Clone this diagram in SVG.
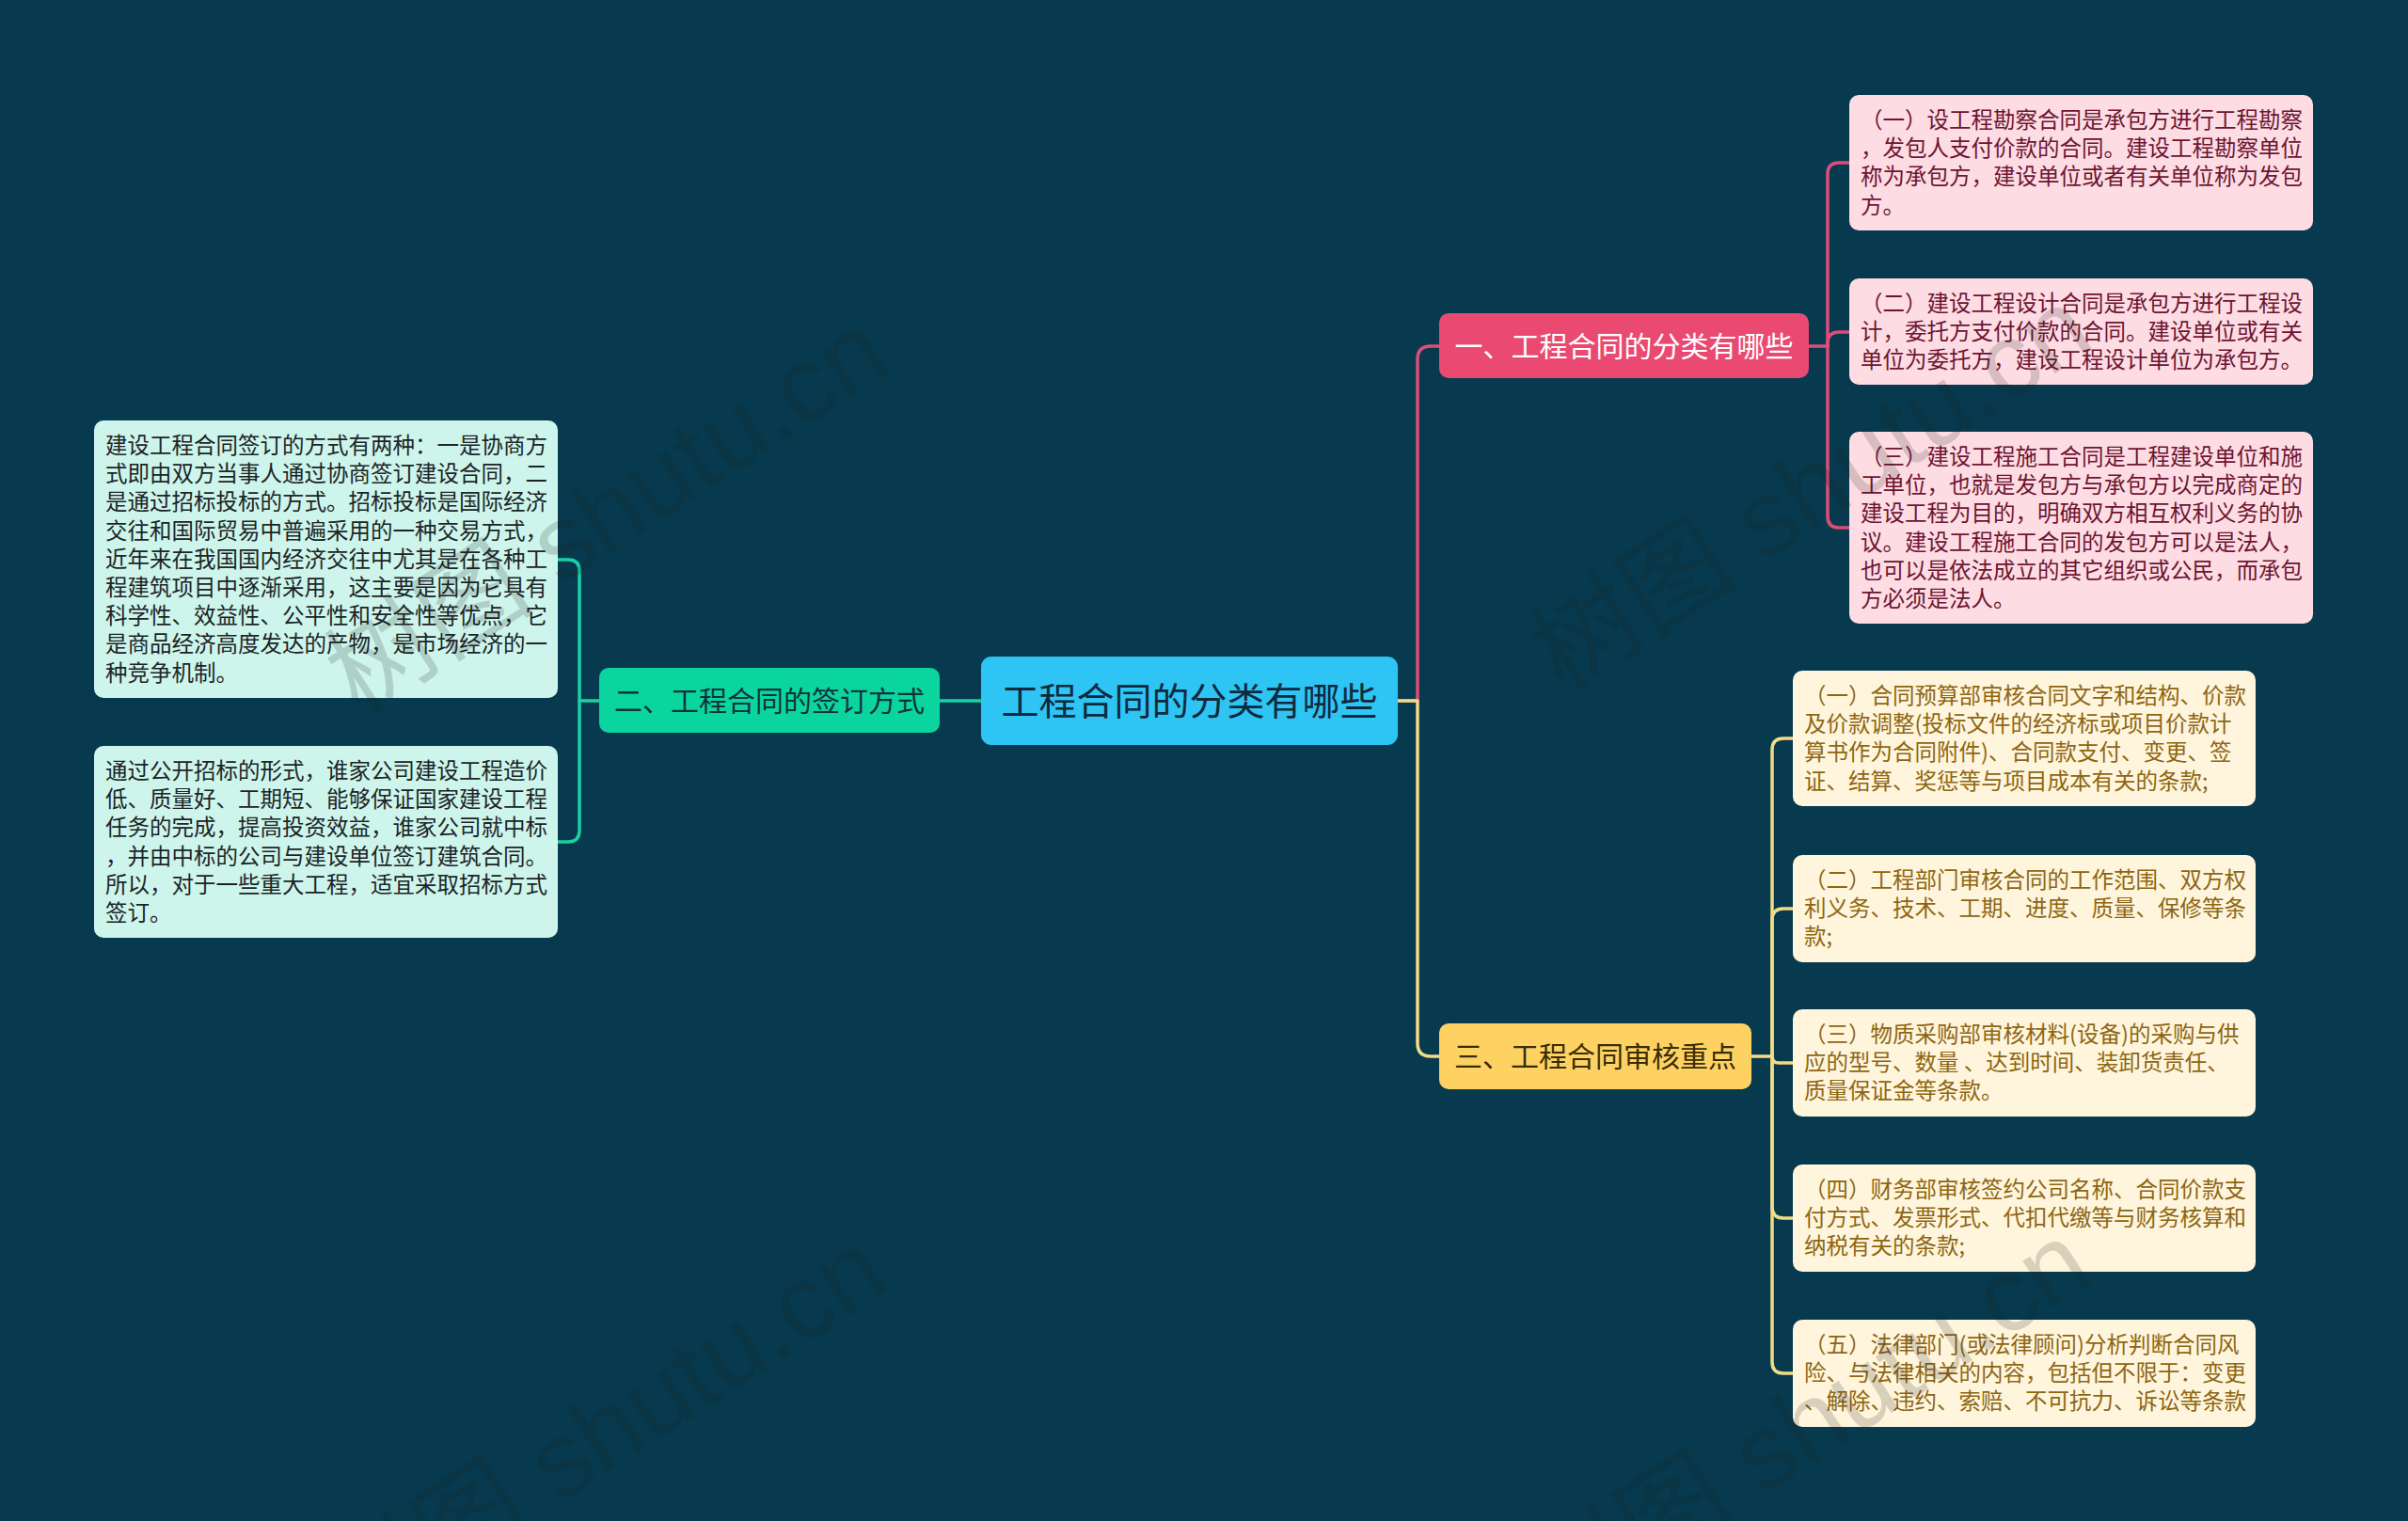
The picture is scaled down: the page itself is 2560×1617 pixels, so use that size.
<svg xmlns="http://www.w3.org/2000/svg" width="2560" height="1617" viewBox="0 0 2560 1617">
<style>
text{font-family:"Noto Sans CJK SC","Noto Sans",sans-serif}
.conn{fill:none;stroke-width:3.5;stroke-linejoin:round;stroke-linecap:round}
.cp{stroke:#DB4E79}.cy{stroke:#F2DB85}.cg{stroke:#19D1A3}
.leaf{font-size:23.5px}
.lp rect{fill:#FDDCE3}.lp text{fill:#6E1432}
.ly rect{fill:#FFF5DD}.ly text{fill:#8E6611}
.lg rect{fill:#CDF5EB}.lg text{fill:#1C2426}
.br{font-size:30px}
.wm{font-size:112px;fill:#202020;fill-opacity:0.17;font-family:"Liberation Sans","Noto Sans CJK SC",sans-serif}
</style>
<rect width="2560" height="1617" fill="#073A4E"/>
<g id="connectors">
<path class="conn cg" d="M1043,745 L999,745"/>
<path class="conn cp" d="M1486,745 L1507,745 L1507,382 Q1507,368 1521,368 L1530,368"/>
<path class="conn cy" d="M1486,745 L1507,745 L1507,1109 Q1507,1123 1521,1123 L1530,1123"/>
<path class="conn cp" d="M1923,368 L1943,368 L1943,185 Q1943,173 1955,173 L1966,173"/>
<path class="conn cp" d="M1943,368 L1943,365 Q1943,353 1955,353 L1966,353"/>
<path class="conn cp" d="M1943,368 L1943,549 Q1943,561 1955,561 L1966,561"/>
<path class="conn cy" d="M1862,1123 L1884,1123 L1884,797 Q1884,785 1896,785 L1906,785"/>
<path class="conn cy" d="M1884,1123 L1884,978 Q1884,966 1896,966 L1906,966"/>
<path class="conn cy" d="M1884,1123 Q1884,1130 1891,1130 L1906,1130"/>
<path class="conn cy" d="M1884,1123 L1884,1283 Q1884,1295 1896,1295 L1906,1295"/>
<path class="conn cy" d="M1884,1123 L1884,1448 Q1884,1460 1896,1460 L1906,1460"/>
<path class="conn cg" d="M637,745 L616,745 L616,607 Q616,595 604,595 L593,595"/>
<path class="conn cg" d="M616,745 L616,883 Q616,895 604,895 L593,895"/>
</g>
<g id="root">
<rect x="1043" y="698" width="443" height="94" rx="11" fill="#2EC4F3"/>
<text x="1264.5" y="760" text-anchor="middle" font-size="40" fill="#0F2A3C">工程合同的分类有哪些</text>
</g>
<g id="branch1">
<rect x="1530" y="333" width="393" height="69" rx="10" fill="#EA4A72"/>
<text class="br" x="1726.5" y="379" text-anchor="middle" fill="#FFFFFF">一、工程合同的分类有哪些</text>
</g>
<g id="branch2">
<rect x="637" y="710" width="362" height="69" rx="10" fill="#0BD59F"/>
<text class="br" x="818" y="756" text-anchor="middle" fill="#10333A">二、工程合同的签订方式</text>
</g>
<g id="branch3">
<rect x="1530" y="1088" width="332" height="70" rx="10" fill="#FDD263"/>
<text class="br" x="1696" y="1134" text-anchor="middle" fill="#3A2C05">三、工程合同审核重点</text>
</g>
<g id="leaf-p1" class="lp leaf">
<rect x="1966" y="101" width="493" height="144" rx="10"/>
<text x="1978" y="136"><tspan x="1978">（一）设工程勘察合同是承包方进行工程勘察</tspan><tspan x="1978" dy="30.2">，发包人支付价款的合同。建设工程勘察单位</tspan><tspan x="1978" dy="30.2">称为承包方，建设单位或者有关单位称为发包</tspan><tspan x="1978" dy="30.2">方。</tspan></text>
</g>
<g id="leaf-p2" class="lp leaf">
<rect x="1966" y="296" width="493" height="113" rx="10"/>
<text x="1978" y="331"><tspan x="1978">（二）建设工程设计合同是承包方进行工程设</tspan><tspan x="1978" dy="30.2">计，委托方支付价款的合同。建设单位或有关</tspan><tspan x="1978" dy="30.2">单位为委托方，建设工程设计单位为承包方。</tspan></text>
</g>
<g id="leaf-p3" class="lp leaf">
<rect x="1966" y="459" width="493" height="204" rx="10"/>
<text x="1978" y="494"><tspan x="1978">（三）建设工程施工合同是工程建设单位和施</tspan><tspan x="1978" dy="30.2">工单位，也就是发包方与承包方以完成商定的</tspan><tspan x="1978" dy="30.2">建设工程为目的，明确双方相互权利义务的协</tspan><tspan x="1978" dy="30.2">议。建设工程施工合同的发包方可以是法人，</tspan><tspan x="1978" dy="30.2">也可以是依法成立的其它组织或公民，而承包</tspan><tspan x="1978" dy="30.2">方必须是法人。</tspan></text>
</g>
<g id="leaf-y1" class="ly leaf">
<rect x="1906" y="713" width="492" height="144" rx="10"/>
<text x="1918" y="748"><tspan x="1918">（一）合同预算部审核合同文字和结构、价款</tspan><tspan x="1918" dy="30.2">及价款调整(投标文件的经济标或项目价款计</tspan><tspan x="1918" dy="30.2">算书作为合同附件)、合同款支付、变更、签</tspan><tspan x="1918" dy="30.2">证、结算、奖惩等与项目成本有关的条款;</tspan></text>
</g>
<g id="leaf-y2" class="ly leaf">
<rect x="1906" y="909" width="492" height="114" rx="10"/>
<text x="1918" y="944"><tspan x="1918">（二）工程部门审核合同的工作范围、双方权</tspan><tspan x="1918" dy="30.2">利义务、技术、工期、进度、质量、保修等条</tspan><tspan x="1918" dy="30.2">款;</tspan></text>
</g>
<g id="leaf-y3" class="ly leaf">
<rect x="1906" y="1073" width="492" height="114" rx="10"/>
<text x="1918" y="1108"><tspan x="1918">（三）物质采购部审核材料(设备)的采购与供</tspan><tspan x="1918" dy="30.2">应的型号、数量 、达到时间、装卸货责任、</tspan><tspan x="1918" dy="30.2">质量保证金等条款。</tspan></text>
</g>
<g id="leaf-y4" class="ly leaf">
<rect x="1906" y="1238" width="492" height="114" rx="10"/>
<text x="1918" y="1273"><tspan x="1918">（四）财务部审核签约公司名称、合同价款支</tspan><tspan x="1918" dy="30.2">付方式、发票形式、代扣代缴等与财务核算和</tspan><tspan x="1918" dy="30.2">纳税有关的条款;</tspan></text>
</g>
<g id="leaf-y5" class="ly leaf">
<rect x="1906" y="1403" width="492" height="114" rx="10"/>
<text x="1918" y="1438"><tspan x="1918">（五）法律部门(或法律顾问)分析判断合同风</tspan><tspan x="1918" dy="30.2">险、与法律相关的内容，包括但不限于：变更</tspan><tspan x="1918" dy="30.2">、解除、违约、索赔、不可抗力、诉讼等条款</tspan></text>
</g>
<g id="leaf-g1" class="lg leaf">
<rect x="100" y="447" width="493" height="295" rx="10"/>
<text x="112" y="482"><tspan x="112">建设工程合同签订的方式有两种：一是协商方</tspan><tspan x="112" dy="30.2">式即由双方当事人通过协商签订建设合同，二</tspan><tspan x="112" dy="30.2">是通过招标投标的方式。招标投标是国际经济</tspan><tspan x="112" dy="30.2">交往和国际贸易中普遍采用的一种交易方式，</tspan><tspan x="112" dy="30.2">近年来在我国国内经济交往中尤其是在各种工</tspan><tspan x="112" dy="30.2">程建筑项目中逐渐采用，这主要是因为它具有</tspan><tspan x="112" dy="30.2">科学性、效益性、公平性和安全性等优点，它</tspan><tspan x="112" dy="30.2">是商品经济高度发达的产物，是市场经济的一</tspan><tspan x="112" dy="30.2">种竞争机制。</tspan></text>
</g>
<g id="leaf-g2" class="lg leaf">
<rect x="100" y="793" width="493" height="204" rx="10"/>
<text x="112" y="828"><tspan x="112">通过公开招标的形式，谁家公司建设工程造价</tspan><tspan x="112" dy="30.2">低、质量好、工期短、能够保证国家建设工程</tspan><tspan x="112" dy="30.2">任务的完成，提高投资效益，谁家公司就中标</tspan><tspan x="112" dy="30.2">，并由中标的公司与建设单位签订建筑合同。</tspan><tspan x="112" dy="30.2">所以，对于一些重大工程，适宜采取招标方式</tspan><tspan x="112" dy="30.2">签订。</tspan></text>
</g>
<g id="watermarks">
<text class="wm" transform="translate(645,545) rotate(-33)" text-anchor="middle" dominant-baseline="central">树图 shutu.cn</text>
<text class="wm" transform="translate(1925,520) rotate(-33)" text-anchor="middle" dominant-baseline="central">树图 shutu.cn</text>
<text class="wm" transform="translate(643,1521) rotate(-33)" text-anchor="middle" dominant-baseline="central">树图 shutu.cn</text>
<text class="wm" transform="translate(1923,1513) rotate(-33)" text-anchor="middle" dominant-baseline="central">树图 shutu.cn</text>
</g>
</svg>
